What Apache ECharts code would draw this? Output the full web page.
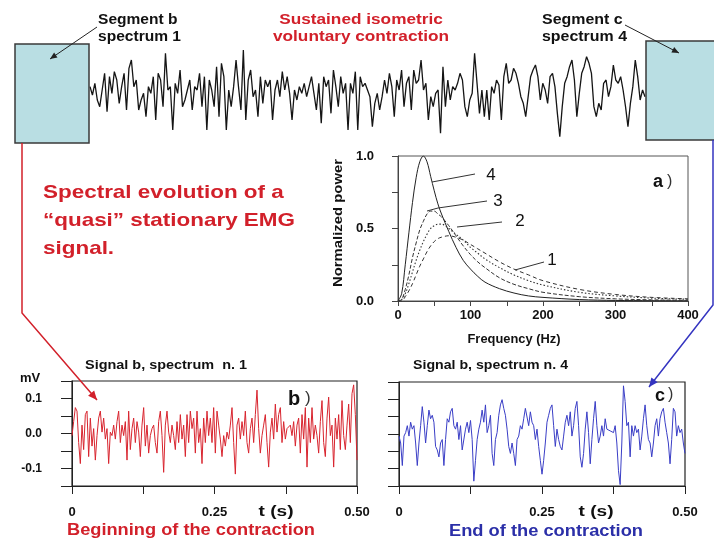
<!DOCTYPE html>
<html><head><meta charset="utf-8">
<script src="https://cdn.jsdelivr.net/npm/echarts@6/dist/echarts.min.js"></script>
<style>html,body{margin:0;padding:0;background:#fff}#c{width:714px;height:545px}</style>
</head><body><div id="c"></div>
<script>
// Raw EMG of the sustained contraction (arbitrary units)
const rawEmg = [
25,0,35,-15,-35,15,65,-50,55,5,70,45,-25,25,65,-45,80,105,25,45,
-45,-15,5,-65,25,5,55,-75,65,45,-35,125,15,25,-105,35,5,75,-35,-15,
15,45,-45,25,15,65,-35,55,-105,45,15,-35,85,-65,95,55,-105,15,-35,25,
105,25,-45,135,-75,45,75,-5,15,-65,55,-25,45,25,45,
-75,15,45,-5,70,15,55,5,-75,15,-15,25,5,35,-5,25,55,5,-45,35,
-85,55,25,45,-55,75,25,-35,55,5,35,-105,35,5,70,-105,55,25,35,15,
-5,-95,-25,5,-45,-5,45,5,65,25,-65,45,15,75,-35,35,55,-45,75,35,
45,105,15,35,-75,-5,-35,5,15,-115,85,-35,45,-15,25,15,
35,65,45,-35,-65,-15,5,125,35,-55,15,-65,15,-75,25,5,45,30,-75,55,
95,35,45,80,65,35,-5,-25,-65,-5,55,75,90,55,-15,35,15,-25,55,65,
25,-55,-125,-35,35,55,85,105,45,-65,5,65,85,115,95,65,-35,-65,-25,-45,
35,45,-5,25,90,45,35,55,15,-35,-95,-25,25,105,55,-15,15,-5
];
// Signal b (spectrum n. 1), microvolts
const signalB = [
-6,34,74,64,-26,-86,24,-46,54,64,-66,44,-36,14,-76,-6,44,64,4,44,
-16,14,-86,4,-6,24,-16,34,64,-26,24,-6,34,-76,64,-46,14,44,-26,34,
4,-66,24,74,-36,24,-56,-6,14,24,-26,-56,34,64,-6,-111,24,64,4,-26,
24,-6,-46,34,-26,54,-16,24,-66,54,-26,64,14,44,-56,64,-26,14,-86,44,
-26,64,-6,44,-26,74,-56,64,24,-16,-66,-6,-36,4,-16,24,74,-26,-116,24,
44,-16,34,-6,64,-26,-56,14,44,-26,54,124,14,-56,-6,24,54,-26,-96,4,
44,-16,84,4,54,74,-26,34,-16,14,14,24,-6,34,-36,24,44,-56,54,-16,
74,-96,44,-26,74,-16,24,-6,-56,34,94,-26,-66,44,104,-6,24,-96,44,-16,
54,-46,94,-6,-46,24,84,-26,114,139,54,-76
];
// Signal c (spectrum n. 4), microvolts
const signalC = [
-6,-26,-91,-6,4,24,-6,34,14,24,-26,-91,-26,24,79,34,-26,24,69,44,
54,34,-36,-46,-66,-26,-16,-91,-16,44,34,64,74,24,14,34,-16,24,-46,-41,
14,34,4,39,-16,-136,-76,-16,14,34,69,34,84,4,24,54,-56,-91,-16,4,
54,84,99,74,54,14,-36,-56,-26,-56,-91,-16,-6,24,14,44,74,74,24,64,
34,24,-16,14,-36,-76,-116,-76,-26,34,54,74,84,24,-36,14,-16,-36,-46,-6,
34,54,24,64,-6,24,74,94,24,-66,-96,-56,14,64,4,-86,-16,44,94,24,
-26,-6,24,-6,44,14,19,9,14,4,24,-26,-106,-146,-26,139,94,24,34,-66,
24,-6,24,4,14,-46,-6,44,84,24,-16,-26,-66,-26,24,44,-6,44,64,74,
34,4,-26,-86,-16,74,64,-6,24,4,14,-26,-56
];
// Power spectra (normalized)
const freqHz    = [0,5,10,15,20,25,30,35,40,45,50,55,60,70,80,90,100,110,120,140,160,180,200,250,300,350,400];
const spectrum4 = [0,0.05,0.25,0.47,0.68,0.85,0.96,1.0,0.96,0.86,0.76,0.67,0.6,0.48,0.37,0.28,0.22,0.17,0.13,0.085,0.055,0.035,0.025,0.01,0.004,0.002,0.001];
const spectrum3 = [0,0.01,0.08,0.18,0.3,0.4,0.49,0.55,0.6,0.62,0.62,0.6,0.58,0.52,0.45,0.38,0.32,0.27,0.23,0.16,0.115,0.085,0.06,0.03,0.015,0.008,0.005];
const spectrum2 = [0,0.01,0.05,0.12,0.2,0.28,0.35,0.41,0.46,0.5,0.52,0.53,0.53,0.5,0.46,0.42,0.37,0.33,0.29,0.23,0.18,0.14,0.11,0.06,0.035,0.02,0.012];
const spectrum1 = [0,0,0.03,0.07,0.12,0.18,0.24,0.29,0.34,0.38,0.41,0.43,0.44,0.45,0.44,0.42,0.39,0.36,0.33,0.27,0.22,0.18,0.14,0.08,0.045,0.025,0.015];
const freqLabels = [0,100,200,300,400];
const powerLabels = [0,0.5,1];
const mvLabels = [-0.1,0,0.1];
const timeLabels = {0:'0',0.25:'0.25',0.5:'0.50'};
const durationS = 0.5;

const FF = '"Liberation Sans", Arial, sans-serif';
const RED = '#d2202a', BLUE = '#2b2fa8';

const mctx = document.createElement('canvas').getContext('2d');
function widest(text, font) {
  mctx.font = font;
  return Math.max.apply(null, text.split('\n').map(s => mctx.measureText(s).width));
}
function txt(text, x, y, size, color, opts) {
  opts = opts || {};
  const font = (opts.weight||'bold')+' '+size+'px '+FF;
  const sx = opts.w ? opts.w / widest(text, font) : 1;
  return {type:'text', z:120, x, y, scaleX:sx, rotation:opts.rot||0,
    style:{text, x:0, y:0, fill:color, font,
      textAlign:opts.align||'left', align:opts.align||'left',
      textVerticalAlign:'middle', verticalAlign:'middle',
      lineHeight:opts.lh||size*1.2}};
}
function line(points, color, w, z) {
  return {type:'polyline', z:z||110, shape:{points}, style:{stroke:color, lineWidth:w||1, fill:null}};
}
function head(x1,y1,x2,y2,color,s,h) {
  const dx=x2-x1, dy=y2-y1, L=Math.hypot(dx,dy), ux=dx/L, uy=dy/L;
  s=s||8; h=h||3.5;
  const bx=x2-ux*s, by=y2-uy*s;
  return {type:'polygon', z:111, shape:{points:[[x2,y2],[bx-uy*h,by+ux*h],[bx+uy*h,by-ux*h]]}, style:{fill:color}};
}

const timeData = arr => arr.map((v,i)=>[i*durationS/(arr.length-1), v/1000]);
const specData = arr => freqHz.map((f,i)=>[f, arr[i]]);

const axisTxt = {color:'#111', fontWeight:'bold', fontSize:12, fontFamily:FF};
const timeAxis = gi => ({gridIndex:gi, type:'value', min:0, max:0.5, interval:0.125,
  axisLine:{onZero:false, lineStyle:{color:'#222'}}, axisTick:{length:8, lineStyle:{color:'#222'}},
  splitLine:{show:false},
  axisLabel:Object.assign({}, axisTxt, {margin:20, fontSize:13, formatter:v=>timeLabels[v]!==undefined?timeLabels[v]:''})});
const mvAxis = (gi, labels) => ({gridIndex:gi, type:'value', min:-0.15, max:0.15, interval:0.05,
  axisLine:{show:true, onZero:false, lineStyle:{color:'#222'}}, axisTick:{show:true, length:11, lineStyle:{color:'#222'}},
  splitLine:{show:false},
  axisLabel:labels ? Object.assign({}, axisTxt, {margin:30, fontSize:12, formatter:v=>mvLabels.some(p=>Math.abs(p-v)<1e-9)?v.toFixed(1):''}) : {show:false}});

const option = {
  animation:false,
  grid:[
    {left:90, top:45, width:555, height:100, show:false},
    {left:398, top:156, width:290, height:145, show:true, borderColor:'#555', borderWidth:1},
    {left:72, top:381, width:285, height:105, show:true, borderColor:'#222', borderWidth:1.2},
    {left:399, top:382, width:286, height:104, show:true, borderColor:'#222', borderWidth:1.2}
  ],
  xAxis:[
    {gridIndex:0, type:'value', min:0, max:rawEmg.length-1, show:false},
    {gridIndex:1, type:'value', min:0, max:400, interval:50,
      axisLine:{onZero:false, lineStyle:{color:'#444'}}, axisTick:{length:5, lineStyle:{color:'#444'}},
      splitLine:{show:false},
      axisLabel:Object.assign({}, axisTxt, {margin:8, fontSize:13, formatter:v=>freqLabels.includes(v)?String(v):''})},
    timeAxis(2),
    timeAxis(3)
  ],
  yAxis:[
    {gridIndex:0, type:'value', min:-150, max:150, show:false},
    {gridIndex:1, type:'value', min:0, max:1, interval:0.25,
      axisLine:{show:true, onZero:false, lineStyle:{color:'#444'}}, axisTick:{show:true, length:6, lineStyle:{color:'#444'}},
      splitLine:{show:false},
      axisLabel:Object.assign({}, axisTxt, {margin:24, fontSize:13, formatter:v=>powerLabels.some(p=>Math.abs(p-v)<1e-9)?v.toFixed(1):''})},
    mvAxis(2, true),
    mvAxis(3, false)
  ],
  series:[
    {type:'line', xAxisIndex:0, yAxisIndex:0, data:rawEmg.map((v,i)=>[i,v]), showSymbol:false, lineStyle:{color:'#151515', width:1.3}},
    {type:'line', xAxisIndex:1, yAxisIndex:1, data:specData(spectrum4), smooth:0.35, showSymbol:false, lineStyle:{color:'#222', width:1}},
    {type:'line', xAxisIndex:1, yAxisIndex:1, data:specData(spectrum3), smooth:0.35, showSymbol:false, lineStyle:{color:'#333', width:1, type:[4,2]}},
    {type:'line', xAxisIndex:1, yAxisIndex:1, data:specData(spectrum2), smooth:0.35, showSymbol:false, lineStyle:{color:'#333', width:1.1, type:[1.5,2]}},
    {type:'line', xAxisIndex:1, yAxisIndex:1, data:specData(spectrum1), smooth:0.35, showSymbol:false, lineStyle:{color:'#333', width:1, type:[4,3]}},
    {type:'line', xAxisIndex:2, yAxisIndex:2, data:timeData(signalB), showSymbol:false, lineStyle:{color:'#d8242e', width:1}},
    {type:'line', xAxisIndex:3, yAxisIndex:3, data:timeData(signalC), showSymbol:false, lineStyle:{color:'#3a3ec6', width:1}}
  ],
  graphic:[
    {type:'rect', z:100, shape:{x:15, y:44, width:74, height:99}, style:{fill:'#b9dee3', stroke:'#3a3a3a', lineWidth:1.5}},
    {type:'rect', z:100, shape:{x:646, y:41, width:72, height:99}, style:{fill:'#b9dee3', stroke:'#3a3a3a', lineWidth:1.5}},
    txt('Segment b\nspectrum 1', 98, 28, 15, '#111', {lh:17, w:83}),
    txt('Sustained isometric\nvoluntary contraction', 361, 28, 15, RED, {align:'center', lh:17, w:176}),
    txt('Segment c\nspectrum 4', 542, 28, 15, '#111', {lh:17, w:85}),
    line([[97,27],[50,59]], '#222', 1), head(97,27,50,59,'#222',7,3),
    line([[625,25],[679,53]], '#222', 1), head(625,25,679,53,'#222',7,3),
    line([[22,143],[22,313],[97,400]], RED, 1.5), head(22,313,97,400,RED,9,4),
    line([[713,140],[713,305],[649,387]], '#3434c0', 1.5), head(713,305,649,387,'#3434c0',9,4),
    txt('Spectral evolution of a\n\u201cquasi\u201d stationary EMG\nsignal.', 43, 221, 19, RED, {lh:28, w:252}),
    txt('Normalized power', 338, 223, 13, '#111', {align:'center', rot:Math.PI/2, w:128}),
    txt('Frequency (Hz)', 514, 339, 13, '#111', {align:'center', w:93}),
    txt('a', 653, 182, 18, '#111'), txt(')', 667, 182, 16, '#333', {weight:'normal'}),
    txt('4', 491, 175, 17, '#111', {align:'center', weight:'normal'}),
    txt('3', 498, 201, 17, '#111', {align:'center', weight:'normal'}),
    txt('2', 520, 221, 17, '#111', {align:'center', weight:'normal'}),
    txt('1', 552, 260, 17, '#111', {align:'center', weight:'normal'}),
    line([[432,182],[475,174]], '#333', 1),
    line([[427,211],[438,208],[487,201]], '#333', 1),
    line([[457,227],[502,222]], '#333', 1),
    line([[515,270],[544,262]], '#333', 1),
    txt('Signal b, spectrum  n. 1', 85, 365, 13, '#111', {w:162}),
    txt('Signal b, spectrum n. 4', 413, 365, 13, '#111', {w:155}),
    txt('mV', 30, 378, 13, '#111', {align:'center'}),
    txt('b', 288, 399, 20, '#111'), txt(')', 305, 398, 17, '#333', {weight:'normal'}),
    txt('c', 655, 396, 18, '#111'), txt(')', 668, 395, 16, '#333', {weight:'normal'}),
    txt('t (s)', 276, 512, 15, '#111', {align:'center', w:35}),
    txt('t (s)', 596, 512, 15, '#111', {align:'center', w:35}),
    txt('Beginning of the contraction', 67, 530, 17, RED, {w:248}),
    txt('End of the contraction', 449, 531, 17, BLUE, {w:194})
  ]
};
const chart = echarts.init(document.getElementById('c'), null, {renderer:'canvas'});
chart.setOption(option);
</script>
</body></html>
